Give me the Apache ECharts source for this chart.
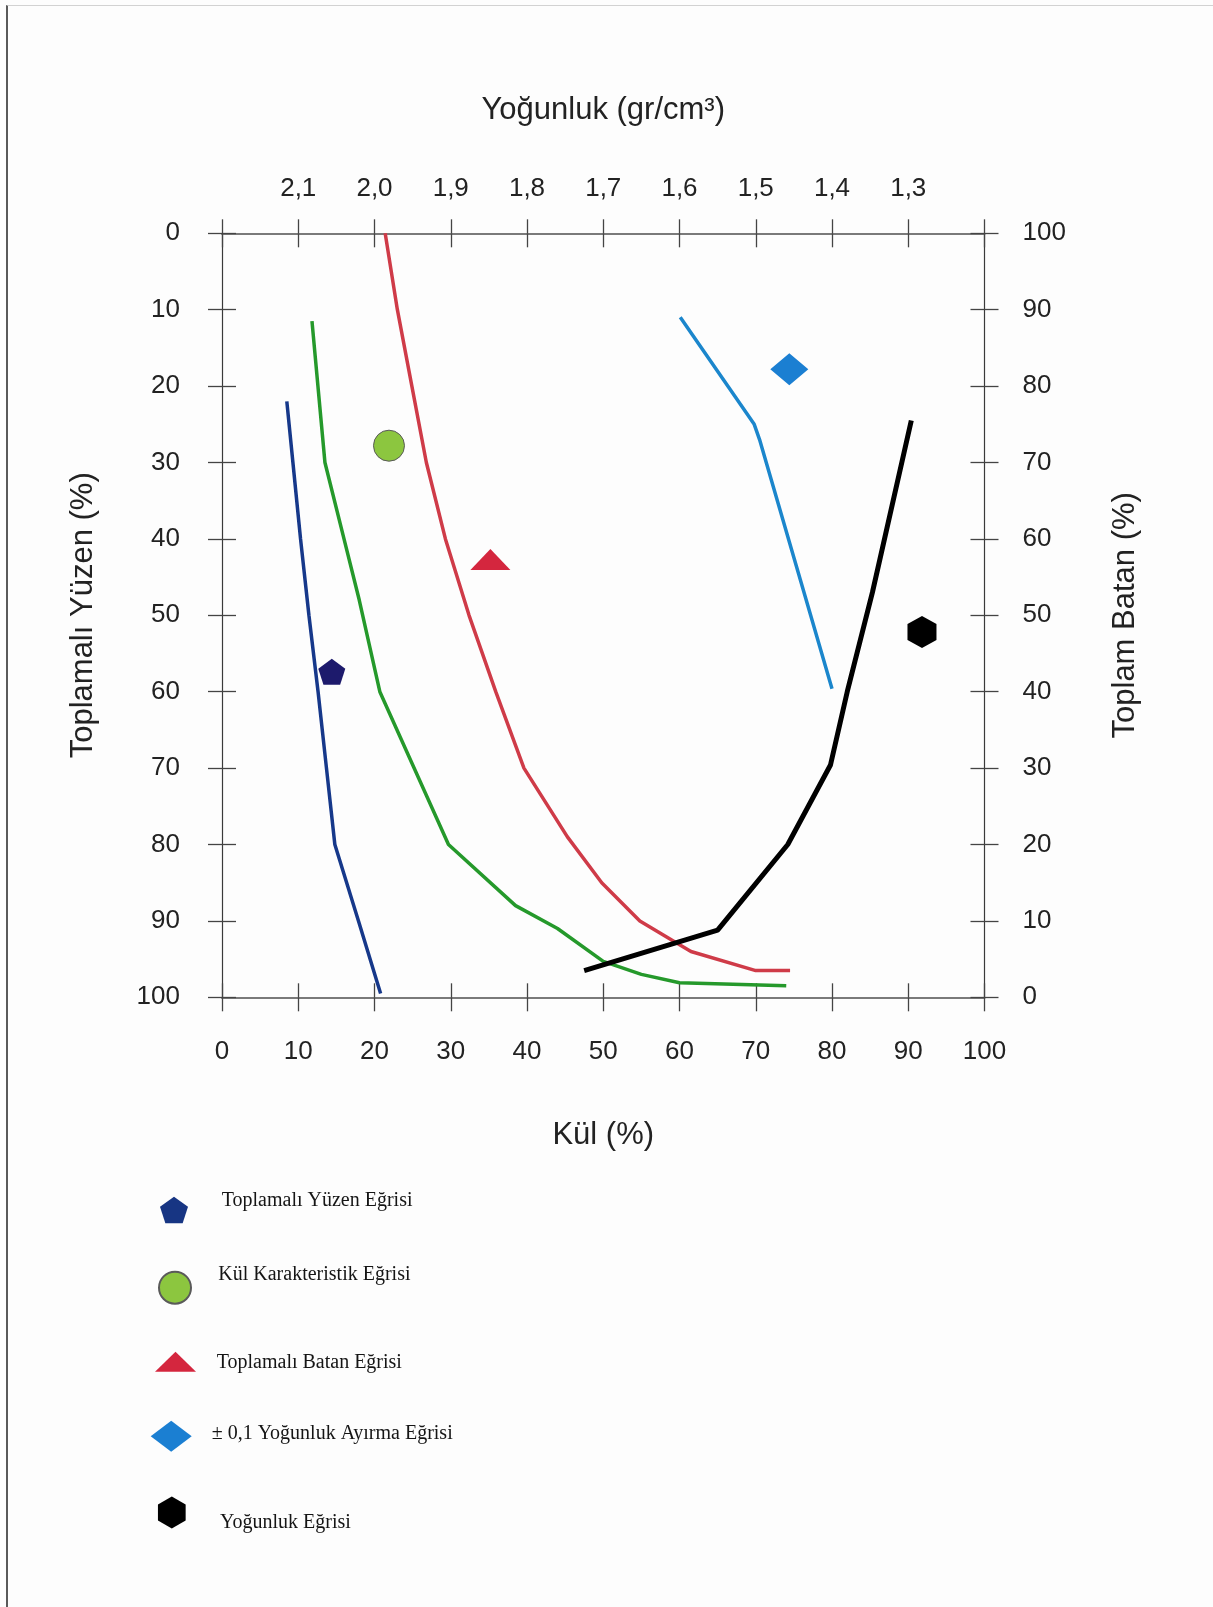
<!DOCTYPE html>
<html>
<head>
<meta charset="utf-8">
<script src="https://cdn.jsdelivr.net/npm/echarts@6/dist/echarts.min.js"></script>
<style>
html,body{margin:0;padding:0;background:#fdfdfd;}
#chart{width:1213px;height:1607px;position:absolute;left:0;top:0;}
#frame{position:absolute;left:6px;top:5px;width:1207px;height:1602px;border-left:2px solid #5a5a5a;border-top:1px solid #d2d2d2;pointer-events:none;box-sizing:border-box;}
</style>
</head>
<body>
<div id="chart"></div>
<div id="frame"></div>
<script>
// ---- Data (x = Kül %, y = % on the named axis) ----
const densityLabels = ['2,1', '2,0', '1,9', '1,8', '1,7', '1,6', '1,5', '1,4', '1,3'];

// curves read against the left axis (Toplamalı Yüzen %, 0 at top)
const yuzenCurve = [[8.5,22],[9.3,30],[10.3,40],[11.4,50],[12.6,60],[13.7,70],[14.8,80],[17.9,90],[20.8,99.5]];
const kulCurve = [[11.8,11.5],[13.5,30],[16,40],[18,48],[20.7,60],[29.7,80],[38.5,88],[44,91],[50,95.3],[55,97],[60,98.1],[74,98.5]];
const batanCurve = [[21.4,0],[23,10],[24.9,20],[26.8,30],[29.3,40],[32.4,50],[35.9,60],[39.6,70],[45.3,79],[49.8,85],[54.8,90],[61.5,94],[70,96.5],[74.5,96.5]];
// curves read against the right axis (Toplam Batan %, 0 at bottom)
const ayirmaCurve = [[60.1,89],[69.8,75],[70.5,73],[80,40.4]];
const yogunlukCurve = [[47.5,3.5],[65,8.8],[74.2,20],[79.8,30.4],[82,40],[85.3,53],[90.4,75.5]];

// marker points
const yuzenMarker = [14.4, 57.4];     // left axis
const kulMarker = [21.9, 27.8];       // left axis
const batanMarker = [35.2, 42.7];     // left axis
const ayirmaMarker = [74.4, 82.2];    // right axis
const yogunlukMarker = [91.8, 47.8];  // right axis

const names = ['Toplamalı Yüzen Eğrisi', 'Kül Karakteristik Eğrisi', 'Toplamalı Batan Eğrisi', '± 0,1 Yoğunluk Ayırma Eğrisi', 'Yoğunluk Eğrisi'];

const PENTAGON = 'path://M0,-100L95.1,-30.9L58.8,80.9L-58.8,80.9L-95.1,-30.9Z';
const HEXAGON = 'path://M0,-100L86.6,-50L86.6,50L0,100L-86.6,50L-86.6,-50Z';

const SANS = 'Liberation Sans, Arial, Helvetica, sans-serif';
const SERIF = 'Liberation Serif, Times New Roman, serif';

const lineH = {show:true, onZero:false, lineStyle:{color:'#7a7a7a', width:2}};
const lineV = {show:true, onZero:false, lineStyle:{color:'#3a3a3a', width:1.2}};
const noLine = {show:false, onZero:false};
const tickOut = {show:true, inside:false, length:14, lineStyle:{color:'#444', width:1.3}};
const tickIn = {show:true, inside:true, length:14, lineStyle:{color:'#444', width:1.3}};
const lbl = {color:'#222', fontSize:26, fontFamily:SANS};
const ttl = {color:'#222', fontSize:31, fontFamily:SANS};
const base = {type:'value', min:0, max:100, interval:10, splitLine:{show:false}};

// icon-only legend entry
function legendIcon(name, left, top, w, h, color) {
  const style = {opacity:1};
  if (color) style.color = color;
  return {
    show:true, orient:'vertical', left:left, top:top, padding:0,
    itemWidth:w, itemHeight:h, selectedMode:false,
    itemStyle:{opacity:1},
    data:[{name:name, itemStyle:style}],
    formatter:function(){ return ''; },
    textStyle:{fontSize:1}
  };
}
// text-only legend entry
function legendText(name, left, top) {
  return {
    show:true, orient:'vertical', left:left, top:top, padding:0,
    itemWidth:1, itemHeight:20, selectedMode:false,
    data:[{name:name, icon:'none'}],
    textStyle:{fontFamily:SERIF, fontSize:20, color:'#151515'}
  };
}

const chart = echarts.init(document.getElementById('chart'), null, {renderer:'canvas'});
chart.setOption({
  animation:false,
  backgroundColor:'#fdfdfd',
  grid:{left:222, right:228.5, top:233.3, bottom:609.7, containLabel:false, outerBoundsMode:'none'},
  xAxis:[
    Object.assign({}, base, {position:'bottom', axisLine:lineH, axisTick:tickOut,
      axisLabel:Object.assign({}, lbl, {margin:42}),
      name:'Kül (%)', nameLocation:'middle', nameGap:123, nameTextStyle:ttl}),
    Object.assign({}, base, {position:'bottom', axisLine:noLine, axisTick:tickIn, axisLabel:{show:false}}),
    Object.assign({}, base, {position:'top', axisLine:lineH, axisTick:tickOut,
      axisLabel:Object.assign({}, lbl, {margin:31, formatter:function(v){ return densityLabels[Math.round(v/10)-1] || ''; }}),
      name:'Yoğunluk (gr/cm³)', nameLocation:'middle', nameGap:107, nameTextStyle:ttl}),
    Object.assign({}, base, {position:'top', axisLine:noLine, axisTick:tickIn, axisLabel:{show:false}})
  ],
  yAxis:[
    Object.assign({}, base, {position:'left', inverse:true, axisLine:lineV, axisTick:tickOut,
      axisLabel:Object.assign({}, lbl, {margin:42}),
      name:'Toplamalı Yüzen (%)', nameLocation:'middle', nameGap:123, nameTextStyle:ttl}),
    Object.assign({}, base, {position:'left', inverse:true, axisLine:noLine, axisTick:tickIn, axisLabel:{show:false}}),
    Object.assign({}, base, {position:'right', axisLine:lineV, axisTick:tickOut,
      axisLabel:Object.assign({}, lbl, {margin:38}),
      name:'Toplam Batan (%)', nameLocation:'middle', nameGap:125, nameTextStyle:ttl}),
    Object.assign({}, base, {position:'right', axisLine:noLine, axisTick:tickIn, axisLabel:{show:false}})
  ],
  legend:[
    legendIcon(names[0], 160, 1196.5, 28, 27, '#173583'),
    legendIcon(names[1], 158, 1270.7, 32, 32),
    legendIcon(names[2], 155, 1351.7, 41, 20),
    legendIcon(names[3], 150.7, 1420.7, 41, 31),
    legendIcon(names[4], 157.3, 1496.5, 29, 32),
    legendText(names[0], 215.7, 1191),
    legendText(names[1], 212.3, 1265),
    legendText(names[2], 210.7, 1352.5),
    legendText(names[3], 205.7, 1423.5),
    legendText(names[4], 214, 1512.5)
  ],
  series:[
    {name:'yuzen-line', type:'line', xAxisIndex:0, yAxisIndex:0, data:yuzenCurve, symbol:'none', silent:true, z:2,
      lineStyle:{color:'#16388a', width:3.5}},
    {name:'kul-line', type:'line', xAxisIndex:0, yAxisIndex:0, data:kulCurve, symbol:'none', silent:true, z:2,
      lineStyle:{color:'#25992b', width:3.5}},
    {name:'batan-line', type:'line', xAxisIndex:0, yAxisIndex:0, data:batanCurve, symbol:'none', silent:true, z:2,
      lineStyle:{color:'#cf3b48', width:3.5}},
    {name:'ayirma-line', type:'line', xAxisIndex:0, yAxisIndex:2, data:ayirmaCurve, symbol:'none', silent:true, z:2,
      lineStyle:{color:'#1b86cc', width:3.5}},
    {name:'yogunluk-line', type:'line', xAxisIndex:0, yAxisIndex:2, data:yogunlukCurve, symbol:'none', silent:true, z:2,
      lineStyle:{color:'#000000', width:5}},

    {name:names[0], type:'scatter', xAxisIndex:0, yAxisIndex:0, data:[yuzenMarker], symbol:PENTAGON, symbolSize:[27,26], z:5,
      itemStyle:{color:'#1d1a6c', opacity:1}},
    {name:names[1], type:'scatter', xAxisIndex:0, yAxisIndex:0, data:[kulMarker], symbol:'circle', symbolSize:31, z:5,
      itemStyle:{color:'#8cc63f', borderColor:'#5a5a5a', borderWidth:1, opacity:1}},
    {name:names[2], type:'scatter', xAxisIndex:0, yAxisIndex:0, data:[batanMarker], symbol:'triangle', symbolSize:[40,21], z:5,
      itemStyle:{color:'#d4263e', opacity:1}},
    {name:names[3], type:'scatter', xAxisIndex:0, yAxisIndex:2, data:[ayirmaMarker], symbol:'diamond', symbolSize:[38,32], z:5,
      itemStyle:{color:'#1b7fd2', opacity:1}},
    {name:names[4], type:'scatter', xAxisIndex:0, yAxisIndex:2, data:[yogunlukMarker], symbol:HEXAGON, symbolSize:[29,32], z:5,
      itemStyle:{color:'#000000', opacity:1}}
  ]
});
</script>
</body>
</html>
